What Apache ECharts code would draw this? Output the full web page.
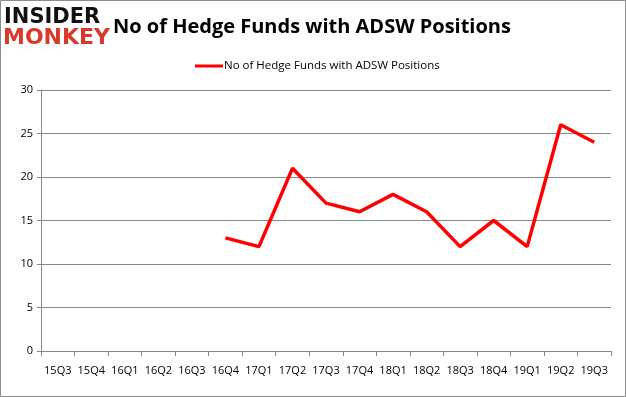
<!DOCTYPE html>
<html>
<head>
<meta charset="utf-8">
<script src="https://cdn.jsdelivr.net/npm/echarts@6/dist/echarts.min.js"></script>
<style>
  html, body { margin: 0; padding: 0; background: #fff; }
  #chart { width: 626px; height: 397px; }
</style>
</head>
<body>
<div id="chart"></div>
<script>
// quarters on the x axis
var quarters = ['15Q3','15Q4','16Q1','16Q2','16Q3','16Q4','17Q1','17Q2','17Q3','17Q4','18Q1','18Q2','18Q3','18Q4','19Q1','19Q2','19Q3']
// number of hedge funds (no data before 16Q4)
var fundCounts = [null, null, null, null, null, 13, 12, 21, 17, 16, 18, 16, 12, 15, 12, 26, 24]
var yTicks = [0, 5, 10, 15, 20, 25, 30]
var seriesName = 'No of Hedge Funds with ADSW Positions'

var myChart = echarts.init(document.getElementById('chart'))
var font = 'Open Sans'

myChart.setOption({
  animation: false,
  title: {
    text: 'No of Hedge Funds with ADSW Positions',
    left: 108,
    top: 12,
    textStyle: { fontFamily: font, fontSize: 20, fontWeight: 'bold', color: '#000' }
  },
  legend: {
    data: [seriesName],
    top: 55,
    left: 190,
    itemWidth: 28,
    itemHeight: 3,
    itemGap: 2,
    icon: 'rect',
    textStyle: { fontFamily: font, fontSize: 11.5, color: '#000', padding: [0, 0, 0, -4] }
  },
  grid: { left: 41, right: 15, top: 90, bottom: 46 },
  xAxis: {
    type: 'category',
    data: quarters,
    boundaryGap: true,
    axisLine: { lineStyle: { color: '#868686' } },
    axisTick: { show: true, length: 5, alignWithLabel: false, lineStyle: { color: '#868686' } },
    axisLabel: { fontFamily: font, fontSize: 11, color: '#000', margin: 14, interval: 0 }
  },
  yAxis: {
    type: 'value',
    min: yTicks[0],
    max: yTicks[yTicks.length - 1],
    interval: 5,
    axisLine: { show: true, lineStyle: { color: '#868686' } },
    axisTick: { show: true, length: 4, lineStyle: { color: '#868686' } },
    splitLine: { lineStyle: { color: '#868686' } },
    axisLabel: { fontFamily: font, fontSize: 11, color: '#000', margin: 8 }
  },
  series: [{
    name: seriesName,
    type: 'line',
    data: fundCounts,
    connectNulls: false,
    showSymbol: false,
    symbol: 'none',
    itemStyle: { color: '#ff0000' },
    lineStyle: { color: '#ff0000', width: 3.5 }
  }],
  graphic: [
    {
      type: 'rect',
      shape: { x: 0.5, y: 0.5, width: 625, height: 396 },
      style: { fill: 'none', stroke: '#8c8c8c', lineWidth: 1 },
      silent: true
    },
    {
      type: 'text',
      left: 4,
      top: 7,
      style: { text: 'INSIDER', fontFamily: 'DejaVu Sans', fontWeight: 'bold', fontSize: 21, fill: '#111', letterSpacing: -1 }
    },
    {
      type: 'text',
      left: 3,
      top: 27,
      style: { text: 'MONKEY', fontFamily: 'DejaVu Sans', fontWeight: 'bold', fontSize: 22, fill: '#d8392b', letterSpacing: -1 }
    }
  ]
})
</script>
</body>
</html>
